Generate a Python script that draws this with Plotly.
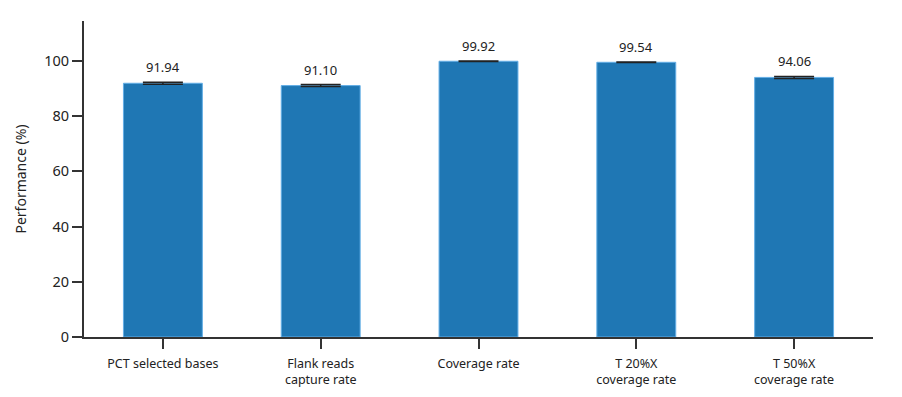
import plotly.graph_objects as go

categories = ["PCT selected bases", "Flank reads<br>capture rate", "Coverage rate",
              "T 20%X<br>coverage rate", "T 50%X<br>coverage rate"]
values = [91.94, 91.10, 99.92, 99.54, 94.06]
errors = [0.35, 0.35, 0.05, 0.1, 0.35]
labels = ["91.94", "91.10", "99.92", "99.54", "94.06"]
y_ticks = [0, 20, 40, 60, 80, 100]

FONT = "Noto Sans, Open Sans, sans-serif"

fig = go.Figure()
fig.add_trace(go.Bar(
    x=categories, y=values,
    marker=dict(color="#1f77b4", line=dict(color="#63aee6", width=1)),
    error_y=dict(type="data", array=errors, visible=True, color="#222222",
                 thickness=1.5, width=20),
    showlegend=False,
))

for c, v, e, t in zip(categories, values, errors, labels):
    fig.add_annotation(x=c, y=v + e, text=t, showarrow=False, yanchor="bottom",
                       yshift=4, font=dict(size=13, color="#222222", family=FONT))

fig.update_layout(
    width=894, height=389,
    margin=dict(l=72, r=29, t=13, b=60),
    plot_bgcolor="white", paper_bgcolor="white",
    bargap=0.5,
    font=dict(family=FONT, color="#222222"),
)
fig.update_xaxes(
    range=[-0.5, 4.5], showline=True, linecolor="#333333", linewidth=2,
    ticks="outside", ticklen=10, tickwidth=1.5, tickcolor="#333333",
    tickfont=dict(size=12.5, color="#222222"), showgrid=False,
    ticklabelstandoff=4, automargin=False,
)
fig.update_yaxes(
    range=[0, 114.5], tickvals=y_ticks, showline=True, linecolor="#333333", linewidth=2,
    ticks="outside", ticklen=10, tickwidth=1.5, tickcolor="#333333",
    tickfont=dict(size=14.5, color="#222222"), showgrid=False, zeroline=False,
    title=dict(text="Performance (%)", font=dict(size=14, color="#222222"), standoff=14),
)

fig.write_html("out.html")
